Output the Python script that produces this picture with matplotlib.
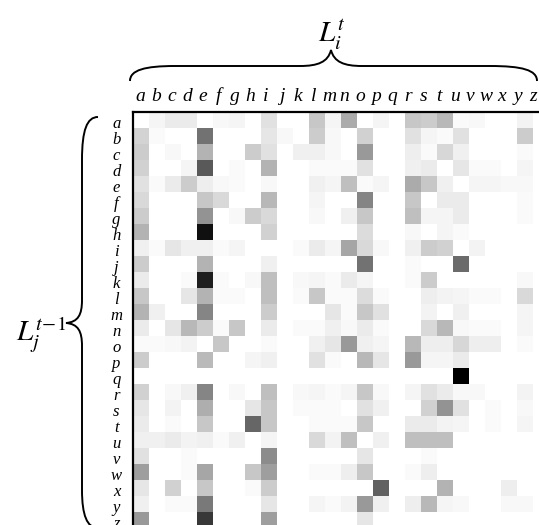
import matplotlib
matplotlib.use('Agg')
import matplotlib.pyplot as plt
import numpy as np
from matplotlib.path import Path
from matplotlib.patches import PathPatch

letters = list('abcdefghijklmnopqrstuvwxyz')

# darkness values (0 = white, 1 = black); rows = L_j^{t-1}, cols = L_i^t
row_a = [0, .04, .08, .08, 0, .03, .04, 0, .12, 0, 0, .22, .04, .33, 0, .04, 0, .22, .2, .28, .02, .03, 0, 0, .05, 0]
row_b = [.17, .02, 0, 0, .55, 0, 0, 0, .1, .03, 0, .2, .03, 0, .18, 0, 0, .12, .04, .02, .12, 0, 0, 0, .2, 0]
row_c = [.2, 0, .03, 0, .3, 0, 0, .2, .12, 0, .06, .06, .03, 0, .4, 0, 0, .07, .02, .16, .06, 0, 0, 0, .02, 0]
row_d = [.18, 0, 0, .04, .65, 0, .02, 0, .3, 0, 0, .02, .02, .02, .12, 0, 0, .06, .08, 0, .1, .02, .02, 0, .04, 0]
row_e = [.12, .02, .08, .2, .07, .03, .02, 0, .03, 0, 0, .06, .04, .25, .02, .04, 0, .33, .22, .06, 0, .04, .04, .03, .03, 0]
row_f = [.15, 0, 0, 0, .22, .15, 0, 0, .28, 0, 0, .04, 0, 0, .48, 0, 0, .22, 0, .08, .08, 0, 0, 0, .02, 0]
row_g = [.2, 0, 0, 0, .42, 0, .03, .2, .15, 0, 0, .03, 0, .06, .22, 0, 0, .25, .04, .04, .08, 0, 0, 0, .02, 0]
row_h = [.3, 0, 0, 0, .93, 0, 0, 0, .18, 0, 0, 0, 0, 0, .14, 0, 0, .03, 0, .04, .02, 0, 0, 0, 0, 0]
row_i = [.06, .02, .1, .06, .06, .02, .04, 0, 0, 0, .02, .08, .04, .35, .15, .03, 0, .06, .2, .18, 0, .05, 0, 0, 0, 0]
row_j = [.2, 0, 0, 0, .3, 0, 0, 0, .06, 0, 0, 0, 0, 0, .55, 0, 0, .02, 0, 0, .58, 0, 0, 0, 0, 0]
row_k = [.08, 0, 0, .02, .88, .02, 0, .03, .25, 0, .03, .04, .02, .08, .04, 0, 0, .02, .2, 0, 0, 0, 0, 0, .03, 0]
row_l = [.22, 0, 0, .1, .3, .02, .02, 0, .25, 0, .02, .22, .02, .02, .14, .02, 0, 0, .07, .05, .04, .02, .02, 0, .15, 0]
row_m = [.3, .06, 0, 0, .48, 0, 0, 0, .2, 0, 0, 0, .1, .02, .22, .12, 0, 0, .05, 0, .06, 0, 0, 0, .04, 0]
row_n = [.08, 0, .1, .28, .2, .02, .22, 0, .08, 0, .02, .02, .06, .03, .08, .02, 0, 0, .15, .28, .03, .02, .02, 0, .04, 0]
row_o = [.02, .02, .03, .05, 0, .22, 0, 0, .02, 0, 0, .06, .1, .4, .06, .04, 0, .28, .07, .07, .16, .07, .07, 0, .02, 0]
row_p = [.2, 0, 0, 0, .27, 0, 0, .04, .06, 0, 0, .12, .02, 0, .28, .1, 0, .4, .04, .04, .08, 0, 0, 0, 0, 0]
row_q = [0, 0, 0, 0, 0, 0, 0, 0, 0, 0, 0, 0, 0, 0, 0, 0, 0, 0, 0, 0, 1.0, 0, 0, 0, 0, 0]
row_r = [.18, 0, .03, .06, .48, 0, .03, 0, .25, 0, .03, .04, .02, .04, .22, .03, 0, .04, .12, .08, .03, .03, 0, 0, .05, 0]
row_s = [.1, 0, .05, 0, .32, 0, 0, .1, .22, 0, .02, .02, .02, 0, .12, .06, 0, 0, .18, .42, .12, 0, .02, 0, .03, 0]
row_t = [.08, 0, .02, 0, .22, 0, 0, .6, .22, 0, 0, .02, .02, .02, .22, 0, 0, .08, .08, .05, .04, 0, .02, 0, .04, 0]
row_u = [.06, .06, .08, .05, .06, .02, .06, 0, .04, 0, 0, .15, .05, .25, 0, .06, 0, .25, .25, .25, 0, 0, 0, 0, 0, 0]
row_v = [.12, 0, 0, .02, 0, 0, 0, 0, .45, 0, 0, 0, 0, 0, .1, 0, 0, 0, .02, 0, 0, 0, 0, 0, 0, 0]
row_w = [.38, 0, 0, .02, .35, 0, 0, .22, .38, 0, 0, .02, .02, .07, .22, 0, 0, .02, .07, 0, 0, 0, 0, 0, 0, 0]
row_x = [.1, 0, .18, 0, .22, 0, 0, .02, .2, 0, 0, 0, 0, 0, 0, .62, 0, 0, 0, .3, 0, 0, 0, .07, 0, 0]
row_y = [.06, 0, .02, .02, .52, 0, 0, 0, .1, 0, 0, .04, .02, .05, .4, .06, 0, .07, .28, .04, .03, 0, 0, .03, .03, 0]
row_z = [.4, 0, 0, 0, .78, 0, 0, 0, .38, 0, 0, 0, 0, 0, .1, 0, 0, 0, 0, 0, 0, 0, 0, 0, 0, 0]

values = np.array([row_a, row_b, row_c, row_d, row_e, row_f, row_g, row_h, row_i,
                   row_j, row_k, row_l, row_m, row_n, row_o, row_p, row_q, row_r,
                   row_s, row_t, row_u, row_v, row_w, row_x, row_y, row_z])

plt.rcParams['mathtext.fontset'] = 'stix'
W, H = 539, 525
fig = plt.figure(figsize=(W / 100, H / 100), dpi=100)
x0, y0, cell = 133, 112, 16
n = len(letters)
ax = fig.add_axes([x0 / W, (H - y0 - n * cell) / H, n * cell / W, n * cell / H])
ax.imshow(values, cmap='gray_r', vmin=0, vmax=1, interpolation='nearest', aspect='auto')
ax.set_xlim(-0.5, n - 0.5)
ax.set_ylim(n - 0.5, -0.5)

ax.xaxis.tick_top()
# the column letters are set slightly tighter than the cells, as in the reference
ax.set_xticks(np.arange(n) * 0.983 - 0.05)
ax.set_xticklabels(letters, fontfamily='Liberation Serif', fontstyle='italic',
                   fontsize=14, va='baseline')
ax.set_yticks(np.arange(n) + 0.53)
ax.set_yticklabels(letters, fontfamily='Liberation Serif', fontstyle='italic',
                   fontsize=12, ha='center', va='baseline')
ax.tick_params(axis='x', length=0, pad=7.6)
ax.tick_params(axis='y', length=0, pad=11.9)
for s in ['right', 'bottom']:
    ax.spines[s].set_visible(False)
for s in ['left', 'top']:
    ax.spines[s].set_linewidth(1.6)

ov = fig.add_axes([0, 0, 1, 1], zorder=5)
ov.set_xlim(0, W)
ov.set_ylim(H, 0)
ov.axis('off')
ov.patch.set_alpha(0)

M, C, L = Path.MOVETO, Path.CURVE4, Path.LINETO
top_v = [(130, 81), (130, 70), (145, 66), (175, 66), (300, 66), (318, 66), (328, 62), (331, 50),
         (334, 62), (344, 66), (362, 66), (490, 66), (522, 66), (537, 70), (537, 81)]
codes = [M, C, C, C, L, C, C, C, C, C, C, L, C, C, C]
ov.add_patch(PathPatch(Path(top_v, codes), fill=False, lw=1.4, color='black'))

left_v = [(98, 117), (87, 117), (82, 130), (82, 160), (82, 300), (82, 315), (78, 322), (66, 323),
          (78, 324), (82, 331), (82, 346), (82, 490), (82, 515), (87, 528), (98, 528)]
ov.add_patch(PathPatch(Path(left_v, codes), fill=False, lw=1.4, color='black'))

ov.text(318, 42, r'$L_i^t$', fontsize=21, ha='left', va='baseline')
ov.text(16, 340, r'$L_j^{t\!-\!1}$', fontsize=21, ha='left', va='baseline')

fig.savefig('out.png', dpi=100)
